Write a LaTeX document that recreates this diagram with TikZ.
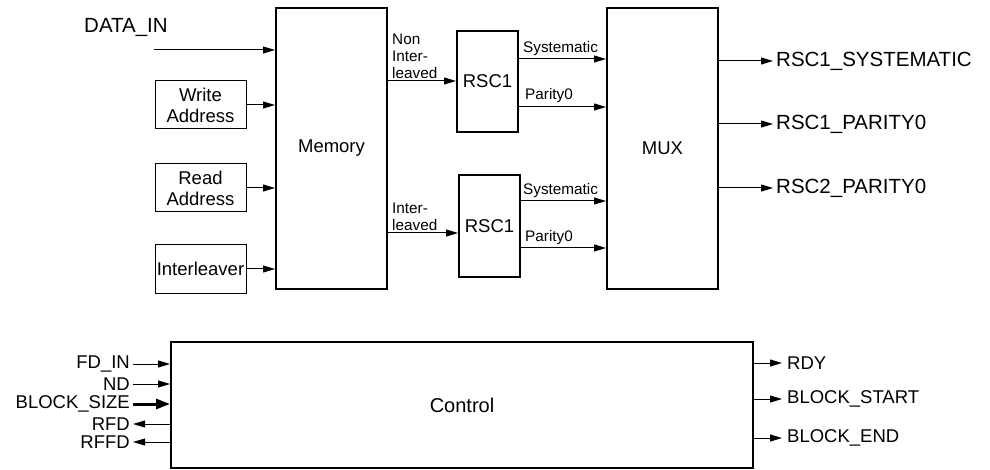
\documentclass[tikz,border=0pt]{standalone}
\usepackage{fontspec}
\setmainfont{Liberation Sans}
\usetikzlibrary{arrows.meta,calc}
\tikzset{
  thickbox/.style={draw,line width=2pt,inner sep=0pt,font=\fontsize{18.5}{20}\selectfont},
  thinbox/.style={draw,line width=1pt,inner sep=0pt,minimum width=91pt,minimum height=48pt,align=center,font=\fontsize{18.5}{21}\selectfont},
  sig/.style={line width=1pt,-{Triangle[length=12pt,width=7pt]}},
  bigsig/.style={line width=3pt,-{Triangle[length=14pt,width=10pt]}},
  small/.style={font=\fontsize{15.3}{17}\selectfont,inner sep=0pt},
  io/.style={font=\fontsize{20.5}{22}\selectfont,inner sep=0pt},
  ctl/.style={font=\fontsize{18.5}{20}\selectfont,inner sep=0pt}
}
\begin{document}
\begin{tikzpicture}[x=1pt,y=-1pt]
\useasboundingbox (0,0) rectangle (990,470);
% main blocks
\node[thickbox,minimum width=111pt,minimum height=281pt] (mem) at (331.5,148.5) {Memory};
\node[thickbox,minimum width=111pt,minimum height=281pt] (mux) at (662.5,148.5) {MUX};
\node[thickbox,minimum width=61pt,minimum height=101pt] (rsca) at (487.5,81.5) {RSC1};
\node[thickbox,minimum width=61pt,minimum height=102pt] (rscb) at (489.5,226) {RSC1};
\node[thickbox,minimum width=582pt,minimum height=126pt,font=\fontsize{20}{22}\selectfont] (ctrl) at (462,405) {Control};
% small input boxes
\node[thinbox] (wa) at (200.5,105) {Write\\Address};
\node[thinbox] (ra) at (200.5,188) {Read\\Address};
\node[thinbox] (il) at (200.5,269) {Interleaver};
% DATA_IN
\node[io,anchor=base west] (din) at (84,33) {DATA\_IN};
\coordinate (dinp) at (154,50);
\draw[sig] (dinp) -- (mem.west |- dinp);
\draw[sig] (wa.east) -- (mem.west |- wa.east);
\draw[sig] (ra.east) -- (mem.west |- ra.east);
\draw[sig] (il.east) -- (mem.west |- il.east);
% memory to RSC
\coordinate (ma) at (0,81);
\coordinate (mb) at (0,233);
\draw[sig] (mem.east |- ma) -- (rsca.west |- ma);
\draw[sig] (mem.east |- mb) -- (rscb.west |- mb);
\node[small,anchor=south west,align=left] (lna) at (392,79) {Non\\Inter-\\leaved};
\node[small,anchor=south west,align=left] (lnb) at (392,231) {Inter-\\leaved};
% RSC to MUX
\coordinate (ya) at (0,59);
\coordinate (yb) at (0,107);
\coordinate (yc) at (0,201);
\coordinate (yd) at (0,248);
\draw[sig] (rsca.east |- ya) -- (mux.west |- ya);
\draw[sig] (rsca.east |- yb) -- (mux.west |- yb);
\draw[sig] (rscb.east |- yc) -- (mux.west |- yc);
\draw[sig] (rscb.east |- yd) -- (mux.west |- yd);
\node[small,anchor=base west] (sa) at (523,53) {Systematic};
\node[small,anchor=base west] (pa) at (525,100) {Parity0};
\node[small,anchor=base west] (sb) at (523,195) {Systematic};
\node[small,anchor=base west] (pb) at (525,242) {Parity0};
% MUX outputs
\coordinate (oa) at (773,61);
\coordinate (ob) at (773,124);
\coordinate (oc) at (773,188);
\draw[sig] (mux.east |- oa) -- (oa);
\draw[sig] (mux.east |- ob) -- (ob);
\draw[sig] (mux.east |- oc) -- (oc);
\node[io,anchor=west] (toa) at (776,61) {RSC1\_SYSTEMATIC};
\node[io,anchor=west] (tob) at (776,124) {RSC1\_PARITY0};
\node[io,anchor=west] (toc) at (776,188) {RSC2\_PARITY0};
% control left
\coordinate (cl1) at (133,364);
\coordinate (cl2) at (133,384);
\coordinate (cl3) at (133,404);
\coordinate (cl4) at (133,424);
\coordinate (cl5) at (133,442);
\draw[sig] (cl1) -- (ctrl.west |- cl1);
\draw[sig] (cl2) -- (ctrl.west |- cl2);
\draw[bigsig] (cl3) -- (ctrl.west |- cl3);
\draw[sig] (ctrl.west |- cl4) -- (cl4);
\draw[sig] (ctrl.west |- cl5) -- (cl5);
\node[ctl,anchor=east] (t1) at (130,364) {FD\_IN};
\node[ctl,anchor=east] (t2) at (130,384) {ND};
\node[ctl,anchor=east] (t3) at (130,404) {BLOCK\_SIZE};
\node[ctl,anchor=east] (t4) at (130,424) {RFD};
\node[ctl,anchor=east] (t5) at (130,442) {RFFD};
% control right
\coordinate (cr1) at (782,363);
\coordinate (cr2) at (782,399);
\coordinate (cr3) at (782,438);
\draw[sig] (ctrl.east |- cr1) -- (cr1);
\draw[sig] (ctrl.east |- cr2) -- (cr2);
\draw[sig] (ctrl.east |- cr3) -- (cr3);
\node[ctl,anchor=west] (r1) at (787,363) {RDY};
\node[ctl,anchor=west] (r2) at (787,399) {BLOCK\_START};
\node[ctl,anchor=west] (r3) at (787,438) {BLOCK\_END};
\end{tikzpicture}
\end{document}
